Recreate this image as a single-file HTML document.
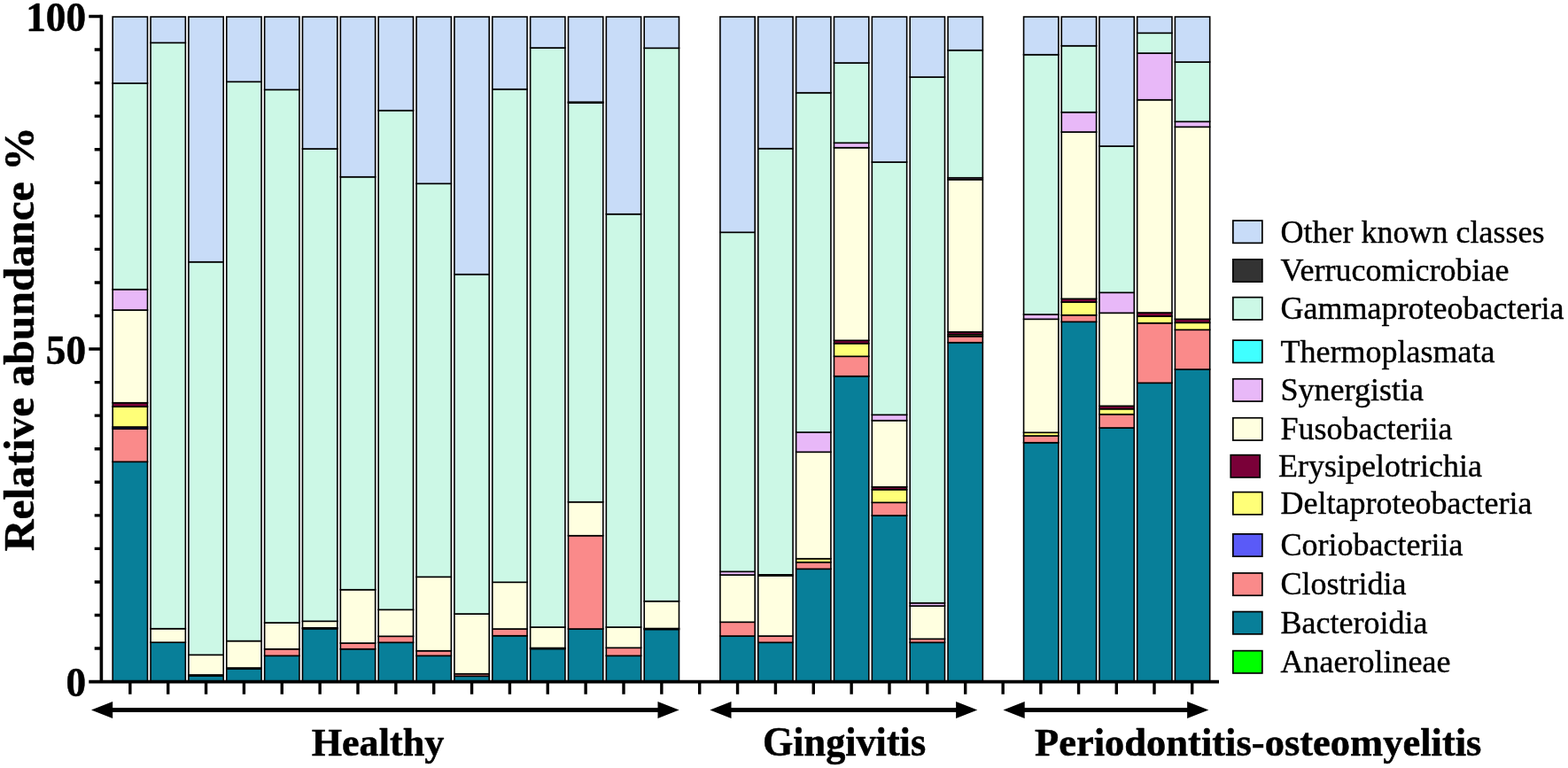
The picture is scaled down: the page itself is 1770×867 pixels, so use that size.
<!DOCTYPE html>
<html lang="en"><head><meta charset="utf-8"><title>Relative abundance of bacterial classes</title>
<style>html,body{margin:0;padding:0;background:#fff;overflow:hidden}svg{display:block}text{font-family:"Liberation Serif",serif;fill:#000}.r{stroke:#000;stroke-width:.4px;stroke-linejoin:round}.b{font-weight:bold;stroke:#000;stroke-width:.5px;stroke-linejoin:round}.seg rect{stroke:#000;stroke-width:1.6}</style></head><body>
<svg width="1770" height="867" viewBox="0 0 1770 867">
<rect width="1770" height="867" fill="#fff"/>
<g class="seg">
<rect x="127.20" y="521.30" width="39.30" height="248.30" fill="#087f99"/>
<rect x="127.20" y="484.00" width="39.30" height="37.30" fill="#fa8a8a"/>
<rect x="127.20" y="482.00" width="39.30" height="2.00" fill="#5a5af8"/>
<rect x="127.20" y="459.00" width="39.30" height="23.00" fill="#ffff78"/>
<rect x="127.20" y="454.70" width="39.30" height="4.30" fill="#7a0038"/>
<rect x="127.20" y="350.00" width="39.30" height="104.70" fill="#ffffe0"/>
<rect x="127.20" y="326.70" width="39.30" height="23.30" fill="#e8b8f8"/>
<rect x="127.20" y="94.00" width="39.30" height="232.70" fill="#ccf8e6"/>
<rect x="127.20" y="19.00" width="39.30" height="75.00" fill="#c8dcf8"/>
<rect x="170.06" y="725.20" width="39.30" height="44.40" fill="#087f99"/>
<rect x="170.06" y="709.70" width="39.30" height="15.50" fill="#ffffe0"/>
<rect x="170.06" y="48.30" width="39.30" height="661.40" fill="#ccf8e6"/>
<rect x="170.06" y="19.00" width="39.30" height="29.30" fill="#c8dcf8"/>
<rect x="212.91" y="762.90" width="39.30" height="6.70" fill="#087f99"/>
<rect x="212.91" y="761.90" width="39.30" height="1.00" fill="#fa8a8a"/>
<rect x="212.91" y="739.30" width="39.30" height="22.60" fill="#ffffe0"/>
<rect x="212.91" y="295.70" width="39.30" height="443.60" fill="#ccf8e6"/>
<rect x="212.91" y="19.00" width="39.30" height="276.70" fill="#c8dcf8"/>
<rect x="255.77" y="755.00" width="39.30" height="14.60" fill="#087f99"/>
<rect x="255.77" y="754.00" width="39.30" height="1.00" fill="#fa8a8a"/>
<rect x="255.77" y="723.60" width="39.30" height="30.40" fill="#ffffe0"/>
<rect x="255.77" y="92.30" width="39.30" height="631.30" fill="#ccf8e6"/>
<rect x="255.77" y="19.00" width="39.30" height="73.30" fill="#c8dcf8"/>
<rect x="298.63" y="740.30" width="39.30" height="29.30" fill="#087f99"/>
<rect x="298.63" y="732.70" width="39.30" height="7.60" fill="#fa8a8a"/>
<rect x="298.63" y="703.00" width="39.30" height="29.70" fill="#ffffe0"/>
<rect x="298.63" y="101.30" width="39.30" height="601.70" fill="#ccf8e6"/>
<rect x="298.63" y="19.00" width="39.30" height="82.30" fill="#c8dcf8"/>
<rect x="341.49" y="709.80" width="39.30" height="59.80" fill="#087f99"/>
<rect x="341.49" y="708.80" width="39.30" height="1.00" fill="#fa8a8a"/>
<rect x="341.49" y="701.30" width="39.30" height="7.50" fill="#ffffe0"/>
<rect x="341.49" y="168.00" width="39.30" height="533.30" fill="#ccf8e6"/>
<rect x="341.49" y="19.00" width="39.30" height="149.00" fill="#c8dcf8"/>
<rect x="384.34" y="732.70" width="39.30" height="36.90" fill="#087f99"/>
<rect x="384.34" y="726.00" width="39.30" height="6.70" fill="#fa8a8a"/>
<rect x="384.34" y="665.70" width="39.30" height="60.30" fill="#ffffe0"/>
<rect x="384.34" y="199.70" width="39.30" height="466.00" fill="#ccf8e6"/>
<rect x="384.34" y="19.00" width="39.30" height="180.70" fill="#c8dcf8"/>
<rect x="427.20" y="725.30" width="39.30" height="44.30" fill="#087f99"/>
<rect x="427.20" y="718.30" width="39.30" height="7.00" fill="#fa8a8a"/>
<rect x="427.20" y="688.30" width="39.30" height="30.00" fill="#ffffe0"/>
<rect x="427.20" y="124.70" width="39.30" height="563.60" fill="#ccf8e6"/>
<rect x="427.20" y="19.00" width="39.30" height="105.70" fill="#c8dcf8"/>
<rect x="470.06" y="740.30" width="39.30" height="29.30" fill="#087f99"/>
<rect x="470.06" y="734.70" width="39.30" height="5.60" fill="#fa8a8a"/>
<rect x="470.06" y="651.30" width="39.30" height="83.40" fill="#ffffe0"/>
<rect x="470.06" y="207.30" width="39.30" height="444.00" fill="#ccf8e6"/>
<rect x="470.06" y="19.00" width="39.30" height="188.30" fill="#c8dcf8"/>
<rect x="512.91" y="763.30" width="39.30" height="6.30" fill="#087f99"/>
<rect x="512.91" y="760.70" width="39.30" height="2.60" fill="#fa8a8a"/>
<rect x="512.91" y="693.00" width="39.30" height="67.70" fill="#ffffe0"/>
<rect x="512.91" y="309.70" width="39.30" height="383.30" fill="#ccf8e6"/>
<rect x="512.91" y="19.00" width="39.30" height="290.70" fill="#c8dcf8"/>
<rect x="555.77" y="717.70" width="39.30" height="51.90" fill="#087f99"/>
<rect x="555.77" y="710.00" width="39.30" height="7.70" fill="#fa8a8a"/>
<rect x="555.77" y="657.30" width="39.30" height="52.70" fill="#ffffe0"/>
<rect x="555.77" y="100.70" width="39.30" height="556.60" fill="#ccf8e6"/>
<rect x="555.77" y="19.00" width="39.30" height="81.70" fill="#c8dcf8"/>
<rect x="598.63" y="732.50" width="39.30" height="37.10" fill="#087f99"/>
<rect x="598.63" y="731.50" width="39.30" height="1.00" fill="#fa8a8a"/>
<rect x="598.63" y="708.00" width="39.30" height="23.50" fill="#ffffe0"/>
<rect x="598.63" y="54.00" width="39.30" height="654.00" fill="#ccf8e6"/>
<rect x="598.63" y="19.00" width="39.30" height="35.00" fill="#c8dcf8"/>
<rect x="641.48" y="710.00" width="39.30" height="59.60" fill="#087f99"/>
<rect x="641.48" y="604.70" width="39.30" height="105.30" fill="#fa8a8a"/>
<rect x="641.48" y="566.70" width="39.30" height="38.00" fill="#ffffe0"/>
<rect x="641.48" y="116.20" width="39.30" height="450.50" fill="#ccf8e6"/>
<rect x="641.48" y="115.20" width="39.30" height="1.00" fill="#333333"/>
<rect x="641.48" y="19.00" width="39.30" height="96.20" fill="#c8dcf8"/>
<rect x="684.34" y="740.30" width="39.30" height="29.30" fill="#087f99"/>
<rect x="684.34" y="731.30" width="39.30" height="9.00" fill="#fa8a8a"/>
<rect x="684.34" y="708.00" width="39.30" height="23.30" fill="#ffffe0"/>
<rect x="684.34" y="241.70" width="39.30" height="466.30" fill="#ccf8e6"/>
<rect x="684.34" y="19.00" width="39.30" height="222.70" fill="#c8dcf8"/>
<rect x="727.20" y="710.50" width="39.30" height="59.10" fill="#087f99"/>
<rect x="727.20" y="709.50" width="39.30" height="1.00" fill="#fa8a8a"/>
<rect x="727.20" y="678.70" width="39.30" height="30.80" fill="#ffffe0"/>
<rect x="727.20" y="54.30" width="39.30" height="624.40" fill="#ccf8e6"/>
<rect x="727.20" y="19.00" width="39.30" height="35.30" fill="#c8dcf8"/>
<rect x="812.91" y="718.00" width="39.30" height="51.60" fill="#087f99"/>
<rect x="812.91" y="702.30" width="39.30" height="15.70" fill="#fa8a8a"/>
<rect x="812.91" y="649.00" width="39.30" height="53.30" fill="#ffffe0"/>
<rect x="812.91" y="645.30" width="39.30" height="3.70" fill="#e8b8f8"/>
<rect x="812.91" y="262.30" width="39.30" height="383.00" fill="#ccf8e6"/>
<rect x="812.91" y="19.00" width="39.30" height="243.30" fill="#c8dcf8"/>
<rect x="855.77" y="725.30" width="39.30" height="44.30" fill="#087f99"/>
<rect x="855.77" y="718.00" width="39.30" height="7.30" fill="#fa8a8a"/>
<rect x="855.77" y="649.80" width="39.30" height="68.20" fill="#ffffe0"/>
<rect x="855.77" y="648.80" width="39.30" height="1.00" fill="#e8b8f8"/>
<rect x="855.77" y="167.70" width="39.30" height="481.10" fill="#ccf8e6"/>
<rect x="855.77" y="19.00" width="39.30" height="148.70" fill="#c8dcf8"/>
<rect x="898.63" y="642.30" width="39.30" height="127.30" fill="#087f99"/>
<rect x="898.63" y="634.70" width="39.30" height="7.60" fill="#fa8a8a"/>
<rect x="898.63" y="630.70" width="39.30" height="4.00" fill="#ffff78"/>
<rect x="898.63" y="510.30" width="39.30" height="120.40" fill="#ffffe0"/>
<rect x="898.63" y="488.00" width="39.30" height="22.30" fill="#e8b8f8"/>
<rect x="898.63" y="104.70" width="39.30" height="383.30" fill="#ccf8e6"/>
<rect x="898.63" y="19.00" width="39.30" height="85.70" fill="#c8dcf8"/>
<rect x="941.48" y="424.70" width="39.30" height="344.90" fill="#087f99"/>
<rect x="941.48" y="402.30" width="39.30" height="22.40" fill="#fa8a8a"/>
<rect x="941.48" y="387.70" width="39.30" height="14.60" fill="#ffff78"/>
<rect x="941.48" y="384.30" width="39.30" height="3.40" fill="#7a0038"/>
<rect x="941.48" y="166.70" width="39.30" height="217.60" fill="#ffffe0"/>
<rect x="941.48" y="161.30" width="39.30" height="5.40" fill="#e8b8f8"/>
<rect x="941.48" y="71.00" width="39.30" height="90.30" fill="#ccf8e6"/>
<rect x="941.48" y="19.00" width="39.30" height="52.00" fill="#c8dcf8"/>
<rect x="984.34" y="582.00" width="39.30" height="187.60" fill="#087f99"/>
<rect x="984.34" y="567.30" width="39.30" height="14.70" fill="#fa8a8a"/>
<rect x="984.34" y="552.70" width="39.30" height="14.60" fill="#ffff78"/>
<rect x="984.34" y="549.70" width="39.30" height="3.00" fill="#7a0038"/>
<rect x="984.34" y="474.70" width="39.30" height="75.00" fill="#ffffe0"/>
<rect x="984.34" y="468.30" width="39.30" height="6.40" fill="#e8b8f8"/>
<rect x="984.34" y="183.00" width="39.30" height="285.30" fill="#ccf8e6"/>
<rect x="984.34" y="19.00" width="39.30" height="164.00" fill="#c8dcf8"/>
<rect x="1027.20" y="725.30" width="39.30" height="44.30" fill="#087f99"/>
<rect x="1027.20" y="721.30" width="39.30" height="4.00" fill="#fa8a8a"/>
<rect x="1027.20" y="684.00" width="39.30" height="37.30" fill="#ffffe0"/>
<rect x="1027.20" y="680.70" width="39.30" height="3.30" fill="#e8b8f8"/>
<rect x="1027.20" y="87.00" width="39.30" height="593.70" fill="#ccf8e6"/>
<rect x="1027.20" y="19.00" width="39.30" height="68.00" fill="#c8dcf8"/>
<rect x="1070.05" y="386.70" width="39.30" height="382.90" fill="#087f99"/>
<rect x="1070.05" y="379.70" width="39.30" height="7.00" fill="#fa8a8a"/>
<rect x="1070.05" y="377.70" width="39.30" height="2.00" fill="#ffff78"/>
<rect x="1070.05" y="374.70" width="39.30" height="3.00" fill="#7a0038"/>
<rect x="1070.05" y="202.70" width="39.30" height="172.00" fill="#ffffe0"/>
<rect x="1070.05" y="200.70" width="39.30" height="2.00" fill="#e8b8f8"/>
<rect x="1070.05" y="56.70" width="39.30" height="144.00" fill="#ccf8e6"/>
<rect x="1070.05" y="19.00" width="39.30" height="37.70" fill="#c8dcf8"/>
<rect x="1155.57" y="499.70" width="39.30" height="269.90" fill="#087f99"/>
<rect x="1155.57" y="492.00" width="39.30" height="7.70" fill="#fa8a8a"/>
<rect x="1155.57" y="488.30" width="39.30" height="3.70" fill="#ffff78"/>
<rect x="1155.57" y="360.30" width="39.30" height="128.00" fill="#ffffe0"/>
<rect x="1155.57" y="355.00" width="39.30" height="5.30" fill="#e8b8f8"/>
<rect x="1155.57" y="61.70" width="39.30" height="293.30" fill="#ccf8e6"/>
<rect x="1155.57" y="19.00" width="39.30" height="42.70" fill="#c8dcf8"/>
<rect x="1198.28" y="363.30" width="39.30" height="406.30" fill="#087f99"/>
<rect x="1198.28" y="355.70" width="39.30" height="7.60" fill="#fa8a8a"/>
<rect x="1198.28" y="341.00" width="39.30" height="14.70" fill="#ffff78"/>
<rect x="1198.28" y="337.30" width="39.30" height="3.70" fill="#7a0038"/>
<rect x="1198.28" y="149.00" width="39.30" height="188.30" fill="#ffffe0"/>
<rect x="1198.28" y="126.70" width="39.30" height="22.30" fill="#e8b8f8"/>
<rect x="1198.28" y="51.70" width="39.30" height="75.00" fill="#ccf8e6"/>
<rect x="1198.28" y="19.00" width="39.30" height="32.70" fill="#c8dcf8"/>
<rect x="1240.98" y="483.00" width="39.30" height="286.60" fill="#087f99"/>
<rect x="1240.98" y="467.70" width="39.30" height="15.30" fill="#fa8a8a"/>
<rect x="1240.98" y="461.70" width="39.30" height="6.00" fill="#ffff78"/>
<rect x="1240.98" y="458.30" width="39.30" height="3.40" fill="#7a0038"/>
<rect x="1240.98" y="353.30" width="39.30" height="105.00" fill="#ffffe0"/>
<rect x="1240.98" y="330.30" width="39.30" height="23.00" fill="#e8b8f8"/>
<rect x="1240.98" y="165.00" width="39.30" height="165.30" fill="#ccf8e6"/>
<rect x="1240.98" y="19.00" width="39.30" height="146.00" fill="#c8dcf8"/>
<rect x="1283.69" y="432.30" width="39.30" height="337.30" fill="#087f99"/>
<rect x="1283.69" y="364.70" width="39.30" height="67.60" fill="#fa8a8a"/>
<rect x="1283.69" y="357.00" width="39.30" height="7.70" fill="#ffff78"/>
<rect x="1283.69" y="353.00" width="39.30" height="4.00" fill="#7a0038"/>
<rect x="1283.69" y="112.70" width="39.30" height="240.30" fill="#ffffe0"/>
<rect x="1283.69" y="60.00" width="39.30" height="52.70" fill="#e8b8f8"/>
<rect x="1283.69" y="37.30" width="39.30" height="22.70" fill="#ccf8e6"/>
<rect x="1283.69" y="19.00" width="39.30" height="18.30" fill="#c8dcf8"/>
<rect x="1326.40" y="417.00" width="39.30" height="352.60" fill="#087f99"/>
<rect x="1326.40" y="372.30" width="39.30" height="44.70" fill="#fa8a8a"/>
<rect x="1326.40" y="364.30" width="39.30" height="8.00" fill="#ffff78"/>
<rect x="1326.40" y="360.30" width="39.30" height="4.00" fill="#7a0038"/>
<rect x="1326.40" y="143.30" width="39.30" height="217.00" fill="#ffffe0"/>
<rect x="1326.40" y="137.30" width="39.30" height="6.00" fill="#e8b8f8"/>
<rect x="1326.40" y="70.00" width="39.30" height="67.30" fill="#ccf8e6"/>
<rect x="1326.40" y="19.00" width="39.30" height="51.00" fill="#c8dcf8"/>
</g>
<g stroke="#000" stroke-width="3.6" fill="none">
<path d="M114.4 16.7V770.5"/>
<path d="M100.3 769.6H1376"/>
<path stroke-width="3.4" d="M106.7 732.05H114.4M106.7 694.49H114.4M106.7 656.94H114.4M106.7 619.38H114.4M106.7 581.83H114.4M106.7 544.27H114.4M106.7 506.72H114.4M106.7 469.16H114.4M106.7 431.61H114.4M100.3 394.05H114.4M106.7 356.50H114.4M106.7 318.94H114.4M106.7 281.39H114.4M106.7 243.83H114.4M106.7 206.27H114.4M106.7 168.72H114.4M106.7 131.17H114.4M106.7 93.61H114.4M106.7 56.06H114.4M100.3 18.50H114.4"/>
<path stroke-width="3.4" d="M146.85 769.6V783.7M189.71 769.6V783.7M232.56 769.6V783.7M275.42 769.6V783.7M318.28 769.6V783.7M361.13 769.6V783.7M403.99 769.6V783.7M446.85 769.6V783.7M489.71 769.6V783.7M532.56 769.6V783.7M575.42 769.6V783.7M618.28 769.6V783.7M661.13 769.6V783.7M703.99 769.6V783.7M746.85 769.6V783.7M789.71 769.6V783.7M832.56 769.6V783.7M875.42 769.6V783.7M918.28 769.6V783.7M961.13 769.6V783.7M1003.99 769.6V783.7M1046.85 769.6V783.7M1089.70 769.6V783.7M1132.16 769.6V783.7M1174.87 769.6V783.7M1217.57 769.6V783.7M1260.28 769.6V783.7M1302.99 769.6V783.7M1345.70 769.6V783.7"/>
</g>
<g fill="#000">
<path d="M126.2 801.5H743.5" stroke="#000" stroke-width="4.8"/><path d="M103.0 801.5L127.2 792.0V811.0Z"/><path d="M766.7 801.5L742.5 792.0V811.0Z"/>
<path d="M824.5 801.5H1080.1" stroke="#000" stroke-width="4.8"/><path d="M801.3 801.5L825.5 792.0V811.0Z"/><path d="M1103.3 801.5L1079.1 792.0V811.0Z"/>
<path d="M1155.7 801.5H1341.1" stroke="#000" stroke-width="4.8"/><path d="M1132.5 801.5L1156.7 792.0V811.0Z"/><path d="M1364.3 801.5L1340.1 792.0V811.0Z"/>
</g>
<text class="b" font-size="45.2" text-anchor="end" transform="translate(97.00 34.50) scale(1.0000 1.0300)">100</text>
<text class="b" font-size="45.2" text-anchor="end" transform="translate(97.00 411.00) scale(1.0000 1.0300)">50</text>
<text class="b" font-size="45.2" text-anchor="end" transform="translate(97.00 786.00) scale(1.0000 1.0300)">0</text>
<text class="b" font-size="49.55" text-anchor="middle" transform="translate(38.20 382.70) rotate(-90)">Relative abundance %</text>
<text class="b" font-size="44.2" text-anchor="middle" transform="translate(426.50 852.90)">Healthy</text>
<text class="b" font-size="44.2" text-anchor="middle" transform="translate(953.00 852.90) scale(1.0000 1.0300)">Gingivitis</text>
<text class="b" font-size="44.52" text-anchor="middle" transform="translate(1420.20 852.90)">Periodontitis-osteomyelitis</text>
<rect x="1391.85" y="249.05" width="33.0" height="25.3" fill="#c8dcf8" stroke="#000" stroke-width="1.7"/>
<text class="r" font-size="36.02" text-anchor="start" transform="translate(1445.50 273.50) scale(1.0000 0.9850)">Other known classes</text>
<rect x="1391.85" y="292.85" width="33.0" height="25.3" fill="#333333" stroke="#000" stroke-width="1.7"/>
<text class="r" font-size="36.02" text-anchor="start" transform="translate(1445.50 317.30) scale(1.0000 0.9850)">Verrucomicrobiae</text>
<rect x="1391.85" y="335.65" width="33.0" height="25.3" fill="#ccf8e6" stroke="#000" stroke-width="1.7"/>
<text class="r" font-size="36.02" text-anchor="start" transform="translate(1445.50 360.10) scale(1.0000 0.9850)">Gammaproteobacteria</text>
<rect x="1391.85" y="384.15" width="33.0" height="25.3" fill="#40ffff" stroke="#000" stroke-width="1.7"/>
<text class="r" font-size="36.02" text-anchor="start" transform="translate(1445.50 408.60) scale(1.0000 0.9850)">Thermoplasmata</text>
<rect x="1391.85" y="427.75" width="33.0" height="25.3" fill="#e8b8f8" stroke="#000" stroke-width="1.7"/>
<text class="r" font-size="36.02" text-anchor="start" transform="translate(1445.50 452.20) scale(1.0000 0.9850)">Synergistia</text>
<rect x="1391.85" y="471.75" width="33.0" height="25.3" fill="#ffffe0" stroke="#000" stroke-width="1.7"/>
<text class="r" font-size="36.02" text-anchor="start" transform="translate(1445.50 496.20) scale(1.0000 0.9850)">Fusobacteriia</text>
<rect x="1389.25" y="513.65" width="33.0" height="25.3" fill="#7a0038" stroke="#000" stroke-width="1.7"/>
<text class="r" font-size="36.02" text-anchor="start" transform="translate(1442.90 538.10) scale(1.0000 0.9850)">Erysipelotrichia</text>
<rect x="1391.85" y="555.55" width="33.0" height="25.3" fill="#ffff78" stroke="#000" stroke-width="1.7"/>
<text class="r" font-size="36.02" text-anchor="start" transform="translate(1445.50 580.00) scale(1.0000 0.9850)">Deltaproteobacteria</text>
<rect x="1391.85" y="602.85" width="33.0" height="25.3" fill="#5a5af8" stroke="#000" stroke-width="1.7"/>
<text class="r" font-size="36.02" text-anchor="start" transform="translate(1445.50 627.30) scale(1.0000 0.9850)">Coriobacteriia</text>
<rect x="1391.85" y="646.95" width="33.0" height="25.3" fill="#fa8a8a" stroke="#000" stroke-width="1.7"/>
<text class="r" font-size="36.02" text-anchor="start" transform="translate(1445.50 671.40) scale(1.0000 0.9850)">Clostridia</text>
<rect x="1391.85" y="690.55" width="33.0" height="25.3" fill="#087f99" stroke="#000" stroke-width="1.7"/>
<text class="r" font-size="36.02" text-anchor="start" transform="translate(1445.50 715.00) scale(1.0000 0.9850)">Bacteroidia</text>
<rect x="1391.85" y="734.65" width="33.0" height="25.3" fill="#00ff00" stroke="#000" stroke-width="1.7"/>
<text class="r" font-size="36.02" text-anchor="start" transform="translate(1445.50 759.10) scale(1.0000 0.9850)">Anaerolineae</text>
</svg></body></html>
